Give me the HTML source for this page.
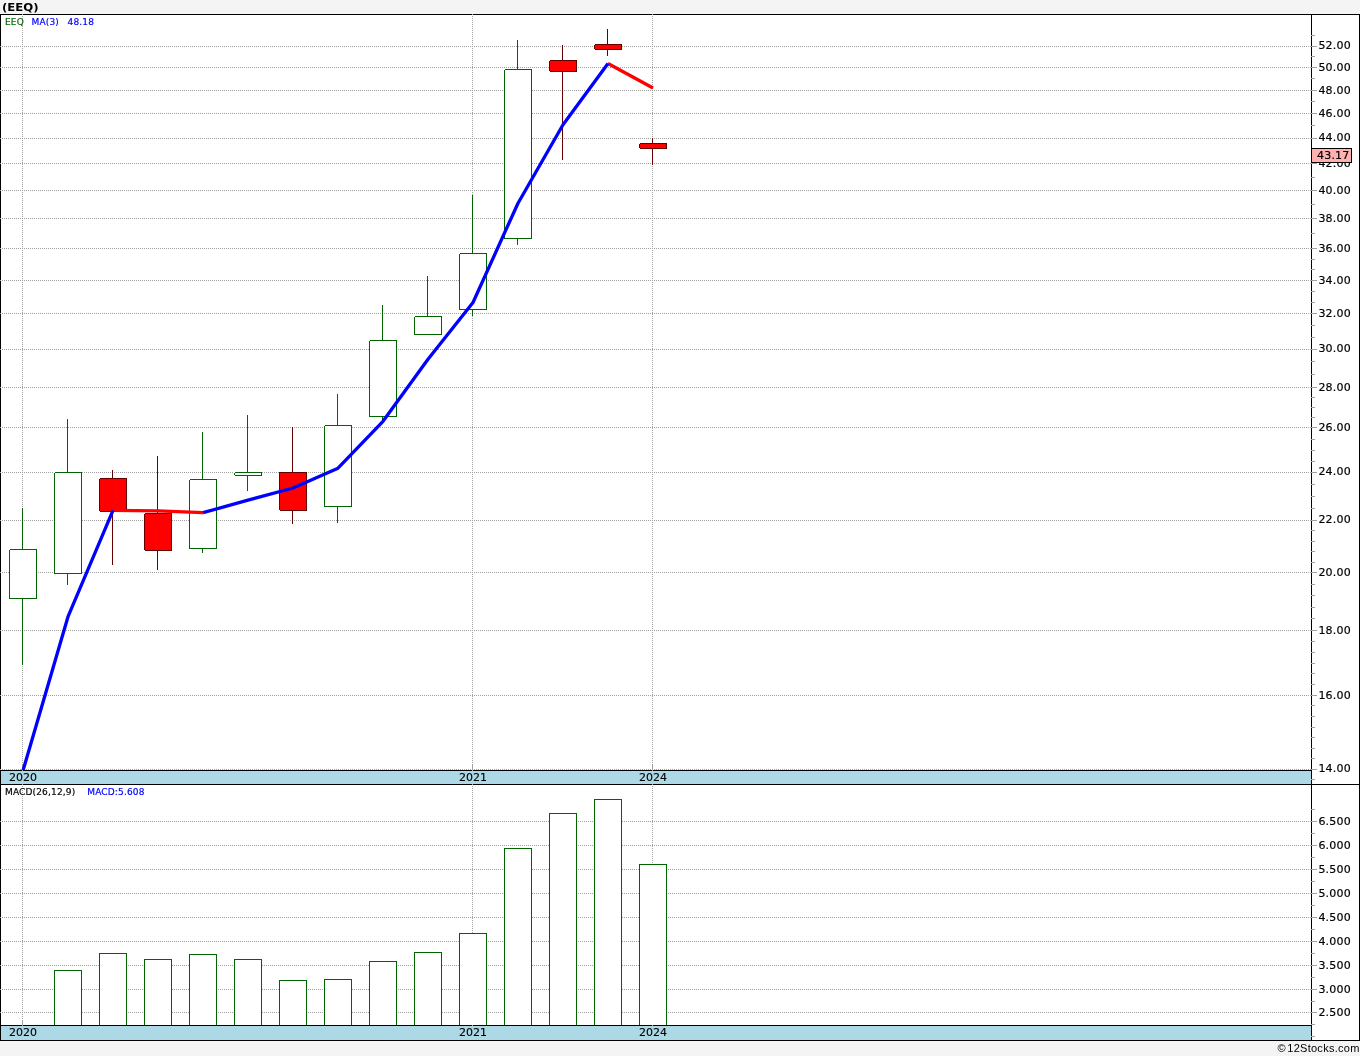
<!DOCTYPE html>
<html lang="en">
<head>
<meta charset="utf-8">
<title>(EEQ)</title>
<style>
html,body{margin:0;padding:0;background:#f4f4f4;}
body{width:1360px;height:1056px;overflow:hidden;position:relative;}
svg{position:absolute;left:0;top:0;display:block;}
text{font-family:"DejaVu Sans","Liberation Sans",sans-serif;fill:#000;}
.ax text,text.ax{font-size:11px;letter-spacing:0.2px;stroke:#000;stroke-width:0.18px;}
text.yr{letter-spacing:0 !important;stroke-width:0.12px !important;}
text.lg{font-size:9px;letter-spacing:0.15px;stroke-width:0.18px;}
text.ti{font-family:"DejaVu Sans","Liberation Sans",sans-serif;font-weight:bold;font-size:11px;}
text.ft{font-family:"Liberation Sans",sans-serif;font-size:11px;letter-spacing:0.27px;}
</style>
</head>
<body>
<svg width="1360" height="1056" viewBox="0 0 1360 1056" shape-rendering="crispEdges">
<defs>
<pattern id="hd" x="0" y="0" width="2" height="1" patternUnits="userSpaceOnUse"><rect x="0" y="0" width="1" height="1" fill="#a0a0a0"/></pattern>
<pattern id="vd" x="0" y="0" width="1" height="2" patternUnits="userSpaceOnUse"><rect x="0" y="0" width="1" height="1" fill="#a0a0a0"/></pattern>
<clipPath id="cp"><rect x="1" y="15" width="1310" height="755"/></clipPath>
</defs>
<g id="frame">
<rect x="0" y="14" width="1360" height="1027" fill="#ffffff"/>
<rect x="0" y="14" width="1360" height="1" fill="#000"/>
<rect x="0" y="1040" width="1360" height="1" fill="#000"/>
<rect x="0" y="14" width="1" height="1027" fill="#000"/>
<rect x="1359" y="14" width="1" height="1027" fill="#000"/>
<rect x="0" y="770" width="1312" height="1" fill="#000"/>
<rect x="1" y="771" width="1310" height="13" fill="#add8e6"/>
<rect x="0" y="784" width="1360" height="1" fill="#000"/>
<rect x="0" y="1025" width="1312" height="1" fill="#000"/>
<rect x="1" y="1026" width="1310" height="14" fill="#add8e6"/>
</g>
<g id="grid">
<rect x="0" y="46" width="1311" height="1" fill="url(#hd)"/>
<rect x="0" y="67" width="1311" height="1" fill="url(#hd)"/>
<rect x="0" y="90" width="1311" height="1" fill="url(#hd)"/>
<rect x="0" y="113" width="1311" height="1" fill="url(#hd)"/>
<rect x="0" y="138" width="1311" height="1" fill="url(#hd)"/>
<rect x="0" y="163" width="1311" height="1" fill="url(#hd)"/>
<rect x="0" y="190" width="1311" height="1" fill="url(#hd)"/>
<rect x="0" y="218" width="1311" height="1" fill="url(#hd)"/>
<rect x="0" y="248" width="1311" height="1" fill="url(#hd)"/>
<rect x="0" y="280" width="1311" height="1" fill="url(#hd)"/>
<rect x="0" y="313" width="1311" height="1" fill="url(#hd)"/>
<rect x="0" y="349" width="1311" height="1" fill="url(#hd)"/>
<rect x="0" y="387" width="1311" height="1" fill="url(#hd)"/>
<rect x="0" y="427" width="1311" height="1" fill="url(#hd)"/>
<rect x="0" y="472" width="1311" height="1" fill="url(#hd)"/>
<rect x="0" y="520" width="1311" height="1" fill="url(#hd)"/>
<rect x="0" y="572" width="1311" height="1" fill="url(#hd)"/>
<rect x="0" y="630" width="1311" height="1" fill="url(#hd)"/>
<rect x="0" y="695" width="1311" height="1" fill="url(#hd)"/>
<rect x="0" y="769" width="1311" height="1" fill="url(#hd)"/>
<rect x="0" y="821" width="1311" height="1" fill="url(#hd)"/>
<rect x="0" y="845" width="1311" height="1" fill="url(#hd)"/>
<rect x="0" y="869" width="1311" height="1" fill="url(#hd)"/>
<rect x="0" y="893" width="1311" height="1" fill="url(#hd)"/>
<rect x="0" y="917" width="1311" height="1" fill="url(#hd)"/>
<rect x="0" y="941" width="1311" height="1" fill="url(#hd)"/>
<rect x="0" y="965" width="1311" height="1" fill="url(#hd)"/>
<rect x="0" y="989" width="1311" height="1" fill="url(#hd)"/>
<rect x="0" y="1012" width="1311" height="1" fill="url(#hd)"/>
<rect x="22" y="14" width="1" height="751" fill="url(#vd)"/>
<rect x="22" y="784" width="1" height="236" fill="url(#vd)"/>
<rect x="22" y="765" width="1" height="6" fill="#a0a0a0"/>
<rect x="22" y="1020" width="1" height="6" fill="#a0a0a0"/>
<rect x="472" y="14" width="1" height="751" fill="url(#vd)"/>
<rect x="472" y="784" width="1" height="236" fill="url(#vd)"/>
<rect x="472" y="765" width="1" height="6" fill="#a0a0a0"/>
<rect x="472" y="1020" width="1" height="6" fill="#a0a0a0"/>
<rect x="652" y="14" width="1" height="751" fill="url(#vd)"/>
<rect x="652" y="784" width="1" height="236" fill="url(#vd)"/>
<rect x="652" y="765" width="1" height="6" fill="#a0a0a0"/>
<rect x="652" y="1020" width="1" height="6" fill="#a0a0a0"/>
</g>
<g id="candles">
<rect x="22" y="508" width="1" height="157" fill="#006400"/>
<rect x="9.5" y="549.5" width="27" height="49" fill="#ffffff" stroke="#006400" stroke-width="1"/>
<rect x="9" y="549" width="1" height="1" fill="#ffffff"/>
<rect x="67" y="419" width="1" height="166" fill="#006400"/>
<rect x="54.5" y="472.5" width="27" height="101" fill="#ffffff" stroke="#006400" stroke-width="1"/>
<rect x="54" y="472" width="1" height="1" fill="#ffffff"/>
<rect x="112" y="470" width="1" height="95" fill="#660000"/>
<rect x="99.5" y="478.5" width="27" height="33" fill="#ff0000" stroke="#660000" stroke-width="1"/>
<rect x="99" y="478" width="1" height="1" fill="#ffffff"/>
<rect x="99" y="511" width="1" height="1" fill="#ffffff"/>
<rect x="157" y="456" width="1" height="114" fill="#660000"/>
<rect x="144.5" y="513.5" width="27" height="37" fill="#ff0000" stroke="#660000" stroke-width="1"/>
<rect x="144" y="513" width="1" height="1" fill="#ffffff"/>
<rect x="144" y="550" width="1" height="1" fill="#ffffff"/>
<rect x="202" y="432" width="1" height="121" fill="#006400"/>
<rect x="189.5" y="479.5" width="27" height="69" fill="#ffffff" stroke="#006400" stroke-width="1"/>
<rect x="189" y="479" width="1" height="1" fill="#ffffff"/>
<rect x="247" y="415" width="1" height="76" fill="#006400"/>
<rect x="234.5" y="472.5" width="27" height="3" fill="#ffffff" stroke="#006400" stroke-width="1"/>
<rect x="234" y="472" width="1" height="1" fill="#ffffff"/>
<rect x="234" y="475" width="1" height="1" fill="#ffffff"/>
<rect x="292" y="427" width="1" height="97" fill="#660000"/>
<rect x="279.5" y="472.5" width="27" height="38" fill="#ff0000" stroke="#660000" stroke-width="1"/>
<rect x="279" y="510" width="1" height="1" fill="#ffffff"/>
<rect x="337" y="394" width="1" height="129" fill="#006400"/>
<rect x="324.5" y="425.5" width="27" height="81" fill="#ffffff" stroke="#006400" stroke-width="1"/>
<rect x="324" y="425" width="1" height="1" fill="#ffffff"/>
<rect x="382" y="305" width="1" height="117" fill="#006400"/>
<rect x="369.5" y="340.5" width="27" height="76" fill="#ffffff" stroke="#006400" stroke-width="1"/>
<rect x="369" y="340" width="1" height="1" fill="#ffffff"/>
<rect x="427" y="276" width="1" height="59" fill="#006400"/>
<rect x="414.5" y="316.5" width="27" height="18" fill="#ffffff" stroke="#006400" stroke-width="1"/>
<rect x="414" y="316" width="1" height="1" fill="#ffffff"/>
<rect x="472" y="195" width="1" height="121" fill="#006400"/>
<rect x="459.5" y="253.5" width="27" height="56" fill="#ffffff" stroke="#006400" stroke-width="1"/>
<rect x="459" y="253" width="1" height="1" fill="#ffffff"/>
<rect x="517" y="40" width="1" height="205" fill="#006400"/>
<rect x="504.5" y="69.5" width="27" height="169" fill="#ffffff" stroke="#006400" stroke-width="1"/>
<rect x="504" y="69" width="1" height="1" fill="#ffffff"/>
<rect x="562" y="45" width="1" height="115" fill="#660000"/>
<rect x="549.5" y="60.5" width="27" height="11" fill="#ff0000" stroke="#660000" stroke-width="1"/>
<rect x="549" y="60" width="1" height="1" fill="#ffffff"/>
<rect x="549" y="71" width="1" height="1" fill="#ffffff"/>
<rect x="607" y="29" width="1" height="27" fill="#660000"/>
<rect x="594.5" y="44.5" width="27" height="5" fill="#ff0000" stroke="#660000" stroke-width="1"/>
<rect x="594" y="44" width="1" height="1" fill="#ffffff"/>
<rect x="594" y="49" width="1" height="1" fill="#ffffff"/>
<rect x="652" y="138" width="1" height="27" fill="#660000"/>
<rect x="639.5" y="143.5" width="27" height="5" fill="#ff0000" stroke="#660000" stroke-width="1"/>
<rect x="639" y="143" width="1" height="1" fill="#ffffff"/>
<rect x="639" y="148" width="1" height="1" fill="#ffffff"/>
</g>
<g id="bars">
<rect x="54.5" y="970.5" width="27" height="55" fill="#ffffff" stroke="#006400" stroke-width="1"/>
<rect x="99.5" y="953.5" width="27" height="72" fill="#ffffff" stroke="#006400" stroke-width="1"/>
<rect x="144.5" y="959.5" width="27" height="66" fill="#ffffff" stroke="#006400" stroke-width="1"/>
<rect x="189.5" y="954.5" width="27" height="71" fill="#ffffff" stroke="#006400" stroke-width="1"/>
<rect x="234.5" y="959.5" width="27" height="66" fill="#ffffff" stroke="#006400" stroke-width="1"/>
<rect x="279.5" y="980.5" width="27" height="45" fill="#ffffff" stroke="#006400" stroke-width="1"/>
<rect x="324.5" y="979.5" width="27" height="46" fill="#ffffff" stroke="#006400" stroke-width="1"/>
<rect x="369.5" y="961.5" width="27" height="64" fill="#ffffff" stroke="#006400" stroke-width="1"/>
<rect x="414.5" y="952.5" width="27" height="73" fill="#ffffff" stroke="#006400" stroke-width="1"/>
<rect x="459.5" y="933.5" width="27" height="92" fill="#ffffff" stroke="#006400" stroke-width="1"/>
<rect x="504.5" y="848.5" width="27" height="177" fill="#ffffff" stroke="#006400" stroke-width="1"/>
<rect x="549.5" y="813.5" width="27" height="212" fill="#ffffff" stroke="#006400" stroke-width="1"/>
<rect x="594.5" y="799.5" width="27" height="226" fill="#ffffff" stroke="#006400" stroke-width="1"/>
<rect x="639.5" y="864.5" width="27" height="161" fill="#ffffff" stroke="#006400" stroke-width="1"/>
<rect x="0" y="1025" width="1312" height="1" fill="#000"/>
<rect x="22" y="1025" width="1" height="1" fill="#a0a0a0"/>
<rect x="472" y="1025" width="1" height="1" fill="#a0a0a0"/>
<rect x="652" y="1025" width="1" height="1" fill="#a0a0a0"/>
</g>
<g id="ma" shape-rendering="geometricPrecision" fill="none" stroke-width="3.3" stroke-linecap="butt" stroke-linejoin="round" clip-path="url(#cp)">
<polyline points="113.0,510.4 158.0,510.8 203.0,512.7" stroke="#ff0000"/>
<polyline points="608.0,63.5 653.0,88.0" stroke="#ff0000"/>
<polyline points="23.0,770.6 68.0,616.7 113.0,510.4" stroke="#0000ff"/>
<polyline points="203.0,512.7 248.0,500.2 293.0,488.0 338.0,468.2 383.0,421.3 428.0,359.2 473.0,302.5 518.0,203.2 563.0,124.7 608.0,63.5" stroke="#0000ff"/>
</g>
<rect x="1311" y="14" width="1" height="1027" fill="#000"/>
<g id="ticks">
<rect x="1311" y="46" width="6" height="1" fill="#a0a0a0"/>
<rect x="1311" y="67" width="6" height="1" fill="#a0a0a0"/>
<rect x="1311" y="90" width="6" height="1" fill="#a0a0a0"/>
<rect x="1311" y="113" width="6" height="1" fill="#a0a0a0"/>
<rect x="1311" y="138" width="6" height="1" fill="#a0a0a0"/>
<rect x="1311" y="163" width="6" height="1" fill="#a0a0a0"/>
<rect x="1311" y="190" width="6" height="1" fill="#a0a0a0"/>
<rect x="1311" y="218" width="6" height="1" fill="#a0a0a0"/>
<rect x="1311" y="248" width="6" height="1" fill="#a0a0a0"/>
<rect x="1311" y="280" width="6" height="1" fill="#a0a0a0"/>
<rect x="1311" y="313" width="6" height="1" fill="#a0a0a0"/>
<rect x="1311" y="349" width="6" height="1" fill="#a0a0a0"/>
<rect x="1311" y="387" width="6" height="1" fill="#a0a0a0"/>
<rect x="1311" y="427" width="6" height="1" fill="#a0a0a0"/>
<rect x="1311" y="472" width="6" height="1" fill="#a0a0a0"/>
<rect x="1311" y="520" width="6" height="1" fill="#a0a0a0"/>
<rect x="1311" y="572" width="6" height="1" fill="#a0a0a0"/>
<rect x="1311" y="630" width="6" height="1" fill="#a0a0a0"/>
<rect x="1311" y="695" width="6" height="1" fill="#a0a0a0"/>
<rect x="1311" y="769" width="6" height="1" fill="#a0a0a0"/>
<rect x="1311" y="35" width="4" height="1" fill="#a0a0a0"/>
<rect x="1311" y="56" width="4" height="1" fill="#a0a0a0"/>
<rect x="1311" y="78" width="4" height="1" fill="#a0a0a0"/>
<rect x="1311" y="101" width="4" height="1" fill="#a0a0a0"/>
<rect x="1311" y="125" width="4" height="1" fill="#a0a0a0"/>
<rect x="1311" y="177" width="4" height="1" fill="#a0a0a0"/>
<rect x="1311" y="204" width="4" height="1" fill="#a0a0a0"/>
<rect x="1311" y="233" width="4" height="1" fill="#a0a0a0"/>
<rect x="1311" y="259" width="4" height="1" fill="#a0a0a0"/>
<rect x="1311" y="269" width="4" height="1" fill="#a0a0a0"/>
<rect x="1311" y="291" width="4" height="1" fill="#a0a0a0"/>
<rect x="1311" y="302" width="4" height="1" fill="#a0a0a0"/>
<rect x="1311" y="325" width="4" height="1" fill="#a0a0a0"/>
<rect x="1311" y="337" width="4" height="1" fill="#a0a0a0"/>
<rect x="1311" y="361" width="4" height="1" fill="#a0a0a0"/>
<rect x="1311" y="374" width="4" height="1" fill="#a0a0a0"/>
<rect x="1311" y="397" width="4" height="1" fill="#a0a0a0"/>
<rect x="1311" y="407" width="4" height="1" fill="#a0a0a0"/>
<rect x="1311" y="417" width="4" height="1" fill="#a0a0a0"/>
<rect x="1311" y="439" width="4" height="1" fill="#a0a0a0"/>
<rect x="1311" y="450" width="4" height="1" fill="#a0a0a0"/>
<rect x="1311" y="461" width="4" height="1" fill="#a0a0a0"/>
<rect x="1311" y="484" width="4" height="1" fill="#a0a0a0"/>
<rect x="1311" y="496" width="4" height="1" fill="#a0a0a0"/>
<rect x="1311" y="508" width="4" height="1" fill="#a0a0a0"/>
<rect x="1311" y="530" width="4" height="1" fill="#a0a0a0"/>
<rect x="1311" y="541" width="4" height="1" fill="#a0a0a0"/>
<rect x="1311" y="551" width="4" height="1" fill="#a0a0a0"/>
<rect x="1311" y="562" width="4" height="1" fill="#a0a0a0"/>
<rect x="1311" y="584" width="4" height="1" fill="#a0a0a0"/>
<rect x="1311" y="595" width="4" height="1" fill="#a0a0a0"/>
<rect x="1311" y="607" width="4" height="1" fill="#a0a0a0"/>
<rect x="1311" y="618" width="4" height="1" fill="#a0a0a0"/>
<rect x="1311" y="641" width="4" height="1" fill="#a0a0a0"/>
<rect x="1311" y="652" width="4" height="1" fill="#a0a0a0"/>
<rect x="1311" y="663" width="4" height="1" fill="#a0a0a0"/>
<rect x="1311" y="673" width="4" height="1" fill="#a0a0a0"/>
<rect x="1311" y="684" width="4" height="1" fill="#a0a0a0"/>
<rect x="1311" y="705" width="4" height="1" fill="#a0a0a0"/>
<rect x="1311" y="716" width="4" height="1" fill="#a0a0a0"/>
<rect x="1311" y="727" width="4" height="1" fill="#a0a0a0"/>
<rect x="1311" y="737" width="4" height="1" fill="#a0a0a0"/>
<rect x="1311" y="748" width="4" height="1" fill="#a0a0a0"/>
<rect x="1311" y="758" width="4" height="1" fill="#a0a0a0"/>
<rect x="1311" y="779" width="4" height="1" fill="#a0a0a0"/>
<rect x="1311" y="821" width="6" height="1" fill="#a0a0a0"/>
<rect x="1311" y="845" width="6" height="1" fill="#a0a0a0"/>
<rect x="1311" y="869" width="6" height="1" fill="#a0a0a0"/>
<rect x="1311" y="893" width="6" height="1" fill="#a0a0a0"/>
<rect x="1311" y="917" width="6" height="1" fill="#a0a0a0"/>
<rect x="1311" y="941" width="6" height="1" fill="#a0a0a0"/>
<rect x="1311" y="965" width="6" height="1" fill="#a0a0a0"/>
<rect x="1311" y="989" width="6" height="1" fill="#a0a0a0"/>
<rect x="1311" y="1012" width="6" height="1" fill="#a0a0a0"/>
<rect x="1311" y="809" width="4" height="1" fill="#a0a0a0"/>
<rect x="1311" y="833" width="4" height="1" fill="#a0a0a0"/>
<rect x="1311" y="857" width="4" height="1" fill="#a0a0a0"/>
<rect x="1311" y="881" width="4" height="1" fill="#a0a0a0"/>
<rect x="1311" y="905" width="4" height="1" fill="#a0a0a0"/>
<rect x="1311" y="929" width="4" height="1" fill="#a0a0a0"/>
<rect x="1311" y="953" width="4" height="1" fill="#a0a0a0"/>
<rect x="1311" y="977" width="4" height="1" fill="#a0a0a0"/>
<rect x="1311" y="1001" width="4" height="1" fill="#a0a0a0"/>
<rect x="1311" y="1024" width="4" height="1" fill="#a0a0a0"/>
<rect x="1311" y="1036" width="4" height="1" fill="#a0a0a0"/>
</g>
<g id="labels" class="ax">
<text x="1318.4" y="48.75">52.00</text>
<text x="1318.4" y="70.75">50.00</text>
<text x="1318.4" y="93.75">48.00</text>
<text x="1318.4" y="116.75">46.00</text>
<text x="1318.4" y="140.75">44.00</text>
<text x="1318.4" y="166.75">42.00</text>
<text x="1318.4" y="193.75">40.00</text>
<text x="1318.4" y="221.75">38.00</text>
<text x="1318.4" y="251.75">36.00</text>
<text x="1318.4" y="283.75">34.00</text>
<text x="1318.4" y="316.75">32.00</text>
<text x="1318.4" y="351.75">30.00</text>
<text x="1318.4" y="390.75">28.00</text>
<text x="1318.4" y="430.75">26.00</text>
<text x="1318.4" y="474.75">24.00</text>
<text x="1318.4" y="522.75">22.00</text>
<text x="1318.4" y="575.75">20.00</text>
<text x="1318.4" y="633.75">18.00</text>
<text x="1318.4" y="698.75">16.00</text>
<text x="1318.4" y="771.75">14.00</text>
<text x="1318.4" y="824.75">6.500</text>
<text x="1318.4" y="848.75">6.000</text>
<text x="1318.4" y="872.75">5.500</text>
<text x="1318.4" y="896.75">5.000</text>
<text x="1318.4" y="920.75">4.500</text>
<text x="1318.4" y="944.75">4.000</text>
<text x="1318.4" y="968.75">3.500</text>
<text x="1318.4" y="992.75">3.000</text>
<text x="1318.4" y="1015.75">2.500</text>
<text class="yr" x="23.0" y="780.9" text-anchor="middle">2020</text>
<text class="yr" x="23.0" y="1035.9" text-anchor="middle">2020</text>
<text class="yr" x="473.0" y="780.9" text-anchor="middle">2021</text>
<text class="yr" x="473.0" y="1035.9" text-anchor="middle">2021</text>
<text class="yr" x="653.0" y="780.9" text-anchor="middle">2024</text>
<text class="yr" x="653.0" y="1035.9" text-anchor="middle">2024</text>
</g>
<rect x="1311.5" y="148.5" width="40" height="14" fill="#ffb0b0" stroke="#000" stroke-width="1"/>
<text class="ax" x="1317" y="159">43.17</text>
<text class="lg" x="5" y="25"><tspan fill="#006400" stroke="#006400">EEQ</tspan><tspan fill="#0000ff" stroke="#0000ff" x="31.5">MA(3)</tspan><tspan fill="#0000ff" stroke="#0000ff" x="67.6">48.18</tspan></text>
<text class="lg" x="5" y="795"><tspan fill="#000" stroke="#000">MACD(26,12,9)</tspan><tspan fill="#0000ff" stroke="#0000ff" x="87.3">MACD:5.608</tspan></text>
<text class="ti" x="2" y="10.5" textLength="36.6" lengthAdjust="spacingAndGlyphs">(EEQ)</text>
<text class="ft" x="1359.6" y="1052" text-anchor="end">©<tspan dx="1.3">12Stocks.com</tspan></text>
</svg>
</body>
</html>
